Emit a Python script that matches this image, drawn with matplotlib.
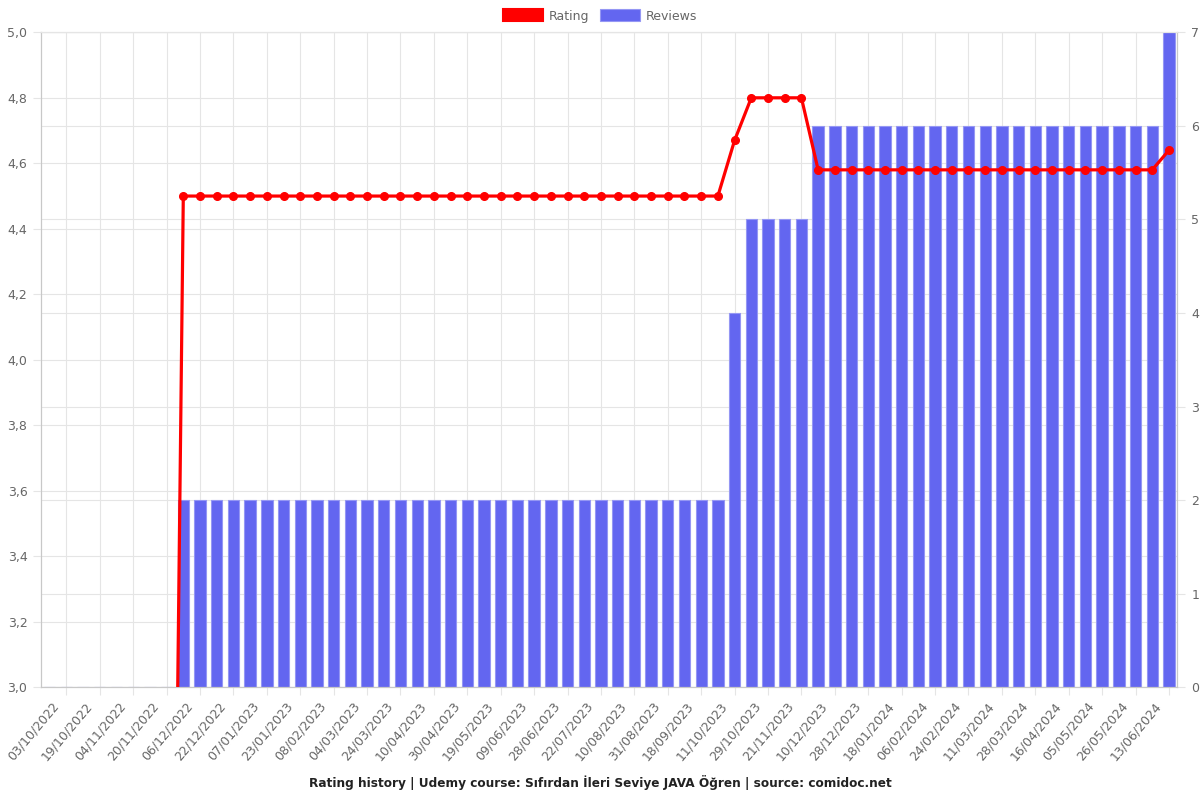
import matplotlib
matplotlib.use("Agg")
import matplotlib.pyplot as plt
from matplotlib.ticker import MultipleLocator, FuncFormatter
from matplotlib.patches import Patch
from matplotlib.transforms import blended_transform_factory, ScaledTranslation

# ---- data ----
tick_labels = [
    "03/10/2022", "19/10/2022", "04/11/2022", "20/11/2022", "06/12/2022",
    "22/12/2022", "07/01/2023", "23/01/2023", "08/02/2023", "04/03/2023",
    "24/03/2023", "10/04/2023", "30/04/2023", "19/05/2023", "09/06/2023",
    "28/06/2023", "22/07/2023", "10/08/2023", "31/08/2023", "18/09/2023",
    "11/10/2023", "29/10/2023", "21/11/2023", "10/12/2023", "28/12/2023",
    "18/01/2024", "06/02/2024", "24/02/2024", "11/03/2024", "28/03/2024",
    "16/04/2024", "05/05/2024", "26/05/2024", "13/06/2024",
]

reviews = [
    0, 0, 0, 0, 0, 0, 0, 0,
    2, 2, 2, 2, 2, 2, 2, 2, 2, 2, 2, 2, 2, 2, 2, 2, 2,
    2, 2, 2, 2, 2, 2, 2, 2, 2, 2, 2, 2, 2, 2, 2, 2,
    4,
    5, 5, 5, 5,
    6, 6, 6, 6, 6, 6, 6, 6, 6, 6, 6, 6, 6, 6, 6, 6, 6, 6, 6, 6, 6,
    7,
]

rating = [
    0, 0, 0, 0, 0, 0, 0, 0,
    4.5, 4.5, 4.5, 4.5, 4.5, 4.5, 4.5, 4.5, 4.5, 4.5, 4.5, 4.5, 4.5, 4.5, 4.5,
    4.5, 4.5, 4.5, 4.5, 4.5, 4.5, 4.5, 4.5, 4.5, 4.5, 4.5, 4.5, 4.5, 4.5, 4.5,
    4.5, 4.5, 4.5,
    4.67,
    4.8, 4.8, 4.8, 4.8,
    4.58, 4.58, 4.58, 4.58, 4.58, 4.58, 4.58, 4.58, 4.58, 4.58, 4.58, 4.58,
    4.58, 4.58, 4.58, 4.58, 4.58, 4.58, 4.58, 4.58, 4.58,
    4.64,
]

title = "Rating history | Udemy course: Sıfırdan İleri Seviye JAVA Öğren | source: comidoc.net"

# ---- styling ----
RED = "#FF0000"
BLUE = "#6366F0"
BLUE_EDGE = "#9597F4"
GRID = "#E5E5E5"
AXIS = "#C8C8C8"
TXT = "#666666"

plt.rcParams["font.family"] = ["DejaVu Sans"]

n = len(reviews)
xs = list(range(n))
label_pos = [i for i in xs if i % 2 == 1]

fig = plt.figure(figsize=(12, 8), dpi=100)
ax = fig.add_axes([41.3 / 1200, 1 - 687.3 / 800, 1136 / 1200, 655 / 800])
ax2 = ax.twinx()

ax.set_zorder(2)
ax.patch.set_visible(False)
ax2.set_zorder(1)

# reviews bars (right axis)
ax2.bar(xs, reviews, width=0.68, color=BLUE, edgecolor=BLUE_EDGE,
        linewidth=0.8, zorder=2)
ax2.set_ylim(0, 7)
ax2.yaxis.set_major_locator(MultipleLocator(1))
ax2.set_axisbelow(True)
ax2.yaxis.grid(True, color=GRID, linewidth=0.8)

# rating line (left axis)
ax.plot(xs, rating, color=RED, linewidth=2.3, marker="o", markersize=5.5,
        markerfacecolor=RED, markeredgecolor=RED, zorder=3)
ax.set_ylim(3.0, 5.0)
ax.yaxis.set_major_locator(MultipleLocator(0.2))
ax.yaxis.set_major_formatter(FuncFormatter(lambda v, p: f"{v:.1f}".replace(".", ",")))
ax.set_xlim(-0.5, n - 0.5)

# grid lines drawn behind the bars
fig.canvas.draw()
rt = [t for t in ax.get_yticks() if 3.0 - 1e-9 <= t <= 5.0 + 1e-9]
trans_r = blended_transform_factory(ax2.transAxes, ax.transData)
ax2.hlines(rt, 0, 1, transform=trans_r, color=GRID, linewidth=0.8, zorder=0.5)
ax2.vlines(label_pos, 0, 1, transform=ax2.get_xaxis_transform(), color=GRID,
           linewidth=0.8, zorder=0.5)

ax.set_xticks(label_pos)
ax.set_xticklabels(tick_labels, rotation=50, ha="right", va="center",
                   rotation_mode="anchor")

for a in (ax, ax2):
    for s in a.spines.values():
        s.set_color(AXIS)
        s.set_linewidth(0.8)
    a.spines["top"].set_color(GRID)

ax.tick_params(axis="x", length=6, width=0.8, color=GRID, labelcolor=TXT,
               labelsize=9, pad=6)
ax.tick_params(axis="y", length=6, width=0.8, color=GRID, labelcolor=TXT,
               labelsize=9, pad=4)
ax2.tick_params(axis="y", length=6, width=0.8, color=GRID, labelcolor=TXT,
                labelsize=9, pad=4)

# shift rotated date labels left (after tick_params, which resets transforms)
shift = ScaledTranslation(-10 / 100, 0, fig.dpi_scale_trans)
for lbl in ax.get_xticklabels():
    lbl.set_transform(lbl.get_transform() + shift)

# legend
handles = [
    Patch(facecolor=RED, edgecolor=RED, linewidth=1.5, label="Rating"),
    Patch(facecolor=BLUE, edgecolor=BLUE_EDGE, linewidth=0.8, label="Reviews"),
]
fig.legend(handles=handles, loc="center", bbox_to_anchor=(0.5, 1 - 16 / 800),
           ncol=2, frameon=False, fontsize=9, handlelength=3.2,
           handleheight=1.1, handletextpad=0.45, columnspacing=0.9,
           labelcolor=TXT)

fig.text(0.5, 1 - 782 / 800, title, ha="center", va="center",
         fontsize=8.7, fontweight="bold", color="#222222")

fig.savefig("out.png", dpi=100, facecolor="white")
